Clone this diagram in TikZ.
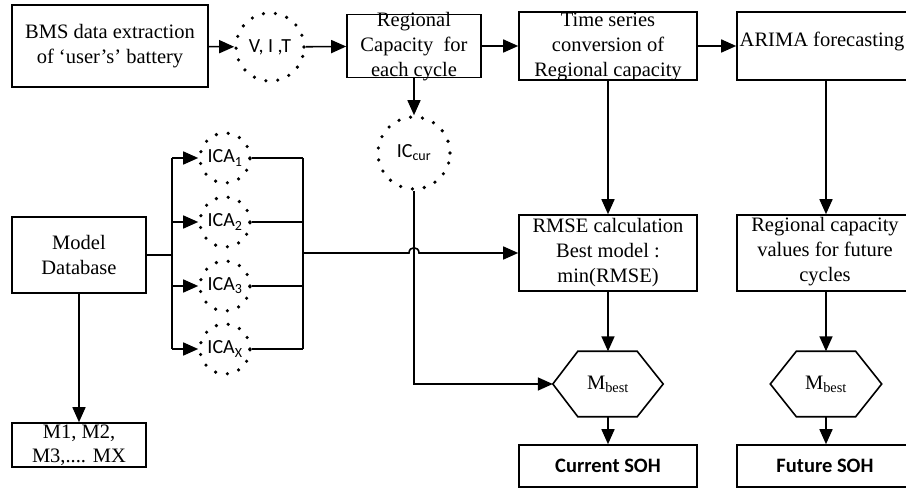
\documentclass[tikz,border=0pt]{standalone}
\usepackage{fontspec}
\setmainfont{Liberation Serif}
\newfontfamily\calib{Carlito}
\usetikzlibrary{arrows.meta,calc}
\newcommand\mysz{\fontsize{20.5}{25}\selectfont}
\begin{document}
\begin{tikzpicture}[x=1pt,y=-1pt,
  box/.style={draw, line width=1.6pt, inner sep=0pt, font=\mysz, align=center},
  txt/.style={inner sep=0pt, font=\mysz, align=center},
  dotc/.style={circle, draw, dash pattern=on 0pt off 12pt, line cap=round, line width=3.6pt, inner sep=0pt, font=\calib\fontsize{20}{22}\selectfont},
  conn/.style={line width=1.6pt},
  arr/.style={conn, -{Triangle[length=15pt,width=13pt]}},
  hexs/.style={line width=1.6pt, line join=miter},
  sohs/.style={box, font=\calib\bfseries\fontsize{20.5}{24}\selectfont}]
\useasboundingbox (0,0) rectangle (906,489);
\clip (0,0) rectangle (906,489);
% top row
\node[box, minimum width=196pt, minimum height=82pt] (bms) at (110,46) {BMS data extraction\\of ‘user’s’ battery};
\node[dotc, minimum size=68pt] (vit) at (270,47) {V, I ,T};
\node[box, minimum width=134pt, minimum height=63pt] (reg) at (414,46) {};
\node[txt] at (414,47) {Regional\\Capacity\ \ for\\each cycle};
\node[box, minimum width=178pt, minimum height=68pt] (ts) at (608,46) {};
\node[txt] at (608,47) {Time series\\conversion of\\Regional capacity};
\node[box, minimum width=190pt, minimum height=68pt] (arima) at (832,46) {};
\node[txt] at (822,41) {ARIMA forecasting};
% IC cur
\node[dotc, minimum size=72pt] (iccur) at (414,153) {IC\textsubscript{cur}};
% model database and ICA
\node[box, minimum width=134pt, minimum height=76pt] (mdb) at (79,255) {Model\\Database};
\node[dotc, minimum size=50pt] (ica1) at (225,158) {ICA\textsubscript{1}};
\node[dotc, minimum size=50pt] (ica2) at (225,222) {ICA\textsubscript{2}};
\node[dotc, minimum size=50pt] (ica3) at (225,286) {ICA\textsubscript{3}};
\node[dotc, minimum size=50pt] (icax) at (225,349) {ICA\textsubscript{X}};
\node[box, minimum width=134pt, minimum height=44pt] (mx) at (79,445) {};
\node[txt, font=\fontsize{20.5}{24}\selectfont] at (79,445) {M1, M2,\\M3,.... MX};
% right part
\node[box, minimum width=178pt, minimum height=76pt] (rmse) at (608,253) {RMSE calculation\\Best model :\\min(RMSE)};
\node[box, minimum width=190pt, minimum height=76pt] (rcv) at (832,253) {};
\node[txt] at (825,252) {Regional capacity\\values for future\\cycles};
\node[minimum width=110pt, minimum height=65pt, inner sep=0pt, font=\mysz] (hex1) at (608,384) {M\textsubscript{best}};
\node[minimum width=111pt, minimum height=65pt, inner sep=0pt, font=\mysz] (hex2) at (826,384) {M\textsubscript{best}};
\draw[hexs] (hex1.west) -- ($(hex1.north west)+(25,0)$) -- ($(hex1.north east)+(-26,0)$) -- (hex1.east) -- ($(hex1.south east)+(-26,0)$) -- ($(hex1.south west)+(25,0)$) -- cycle;
\draw[hexs] (hex2.west) -- ($(hex2.north west)+(26,0)$) -- ($(hex2.north east)+(-26,0)$) -- (hex2.east) -- ($(hex2.south east)+(-26,0)$) -- ($(hex2.south west)+(26,0)$) -- cycle;
\node[sohs, minimum width=178pt, minimum height=42pt] (cur) at (608,466) {Current SOH};
\node[box, minimum width=190pt, minimum height=42pt] (fut) at (832,466) {};
\node[txt, font=\calib\bfseries\fontsize{20.5}{24}\selectfont] at (825,466) {Future SOH};
% connectors top row
\draw[arr] (bms) -- (vit);
\draw[arr] (vit) -- (reg);
\draw[arr] (reg) -- (ts);
\draw[arr] (ts) -- (arima);
\draw[arr] (reg) -- (iccur);
\draw[arr] (ts) -- (rmse);
\draw[arr] (hex2 |- arima.south) -- (hex2 |- rcv.north);
\draw[arr] (rmse) -- (hex1);
\draw[arr] (hex1) -- (cur);
\draw[arr] (hex2 |- rcv.south) -- (hex2.north);
\draw[arr] (hex2) -- (hex2 |- fut.north);
\draw[arr] (mdb) -- (mx);
% buses
\coordinate (lb) at (172,255);
\coordinate (rb) at (303,253);
\draw[conn] (mdb.east |- lb) -- (lb);
\draw[conn] (lb |- ica1) -- (lb |- icax);
\draw[arr] (lb |- ica1) -- (ica1);
\draw[arr] (lb |- ica2) -- (ica2);
\draw[arr] (lb |- ica3) -- (ica3);
\draw[arr] (lb |- icax) -- (icax);
\draw[conn] (ica1) -- (rb |- ica1);
\draw[conn] (ica2) -- (rb |- ica2);
\draw[conn] (ica3) -- (rb |- ica3);
\draw[conn] (icax) -- (rb |- icax);
\draw[conn] (rb |- ica1) -- (rb |- icax);
\coordinate (jc) at (iccur.south |- rb);
\draw[arr] (rb) -- ($(jc)+(-5,0)$) .. controls ($(jc)+(-5,-7)$) and ($(jc)+(5,-7)$) .. ($(jc)+(5,0)$) -- (rmse.west);
\draw[arr] (iccur.south) -- (iccur.south |- hex1.west) -- (hex1.west);
\end{tikzpicture}
\end{document}
